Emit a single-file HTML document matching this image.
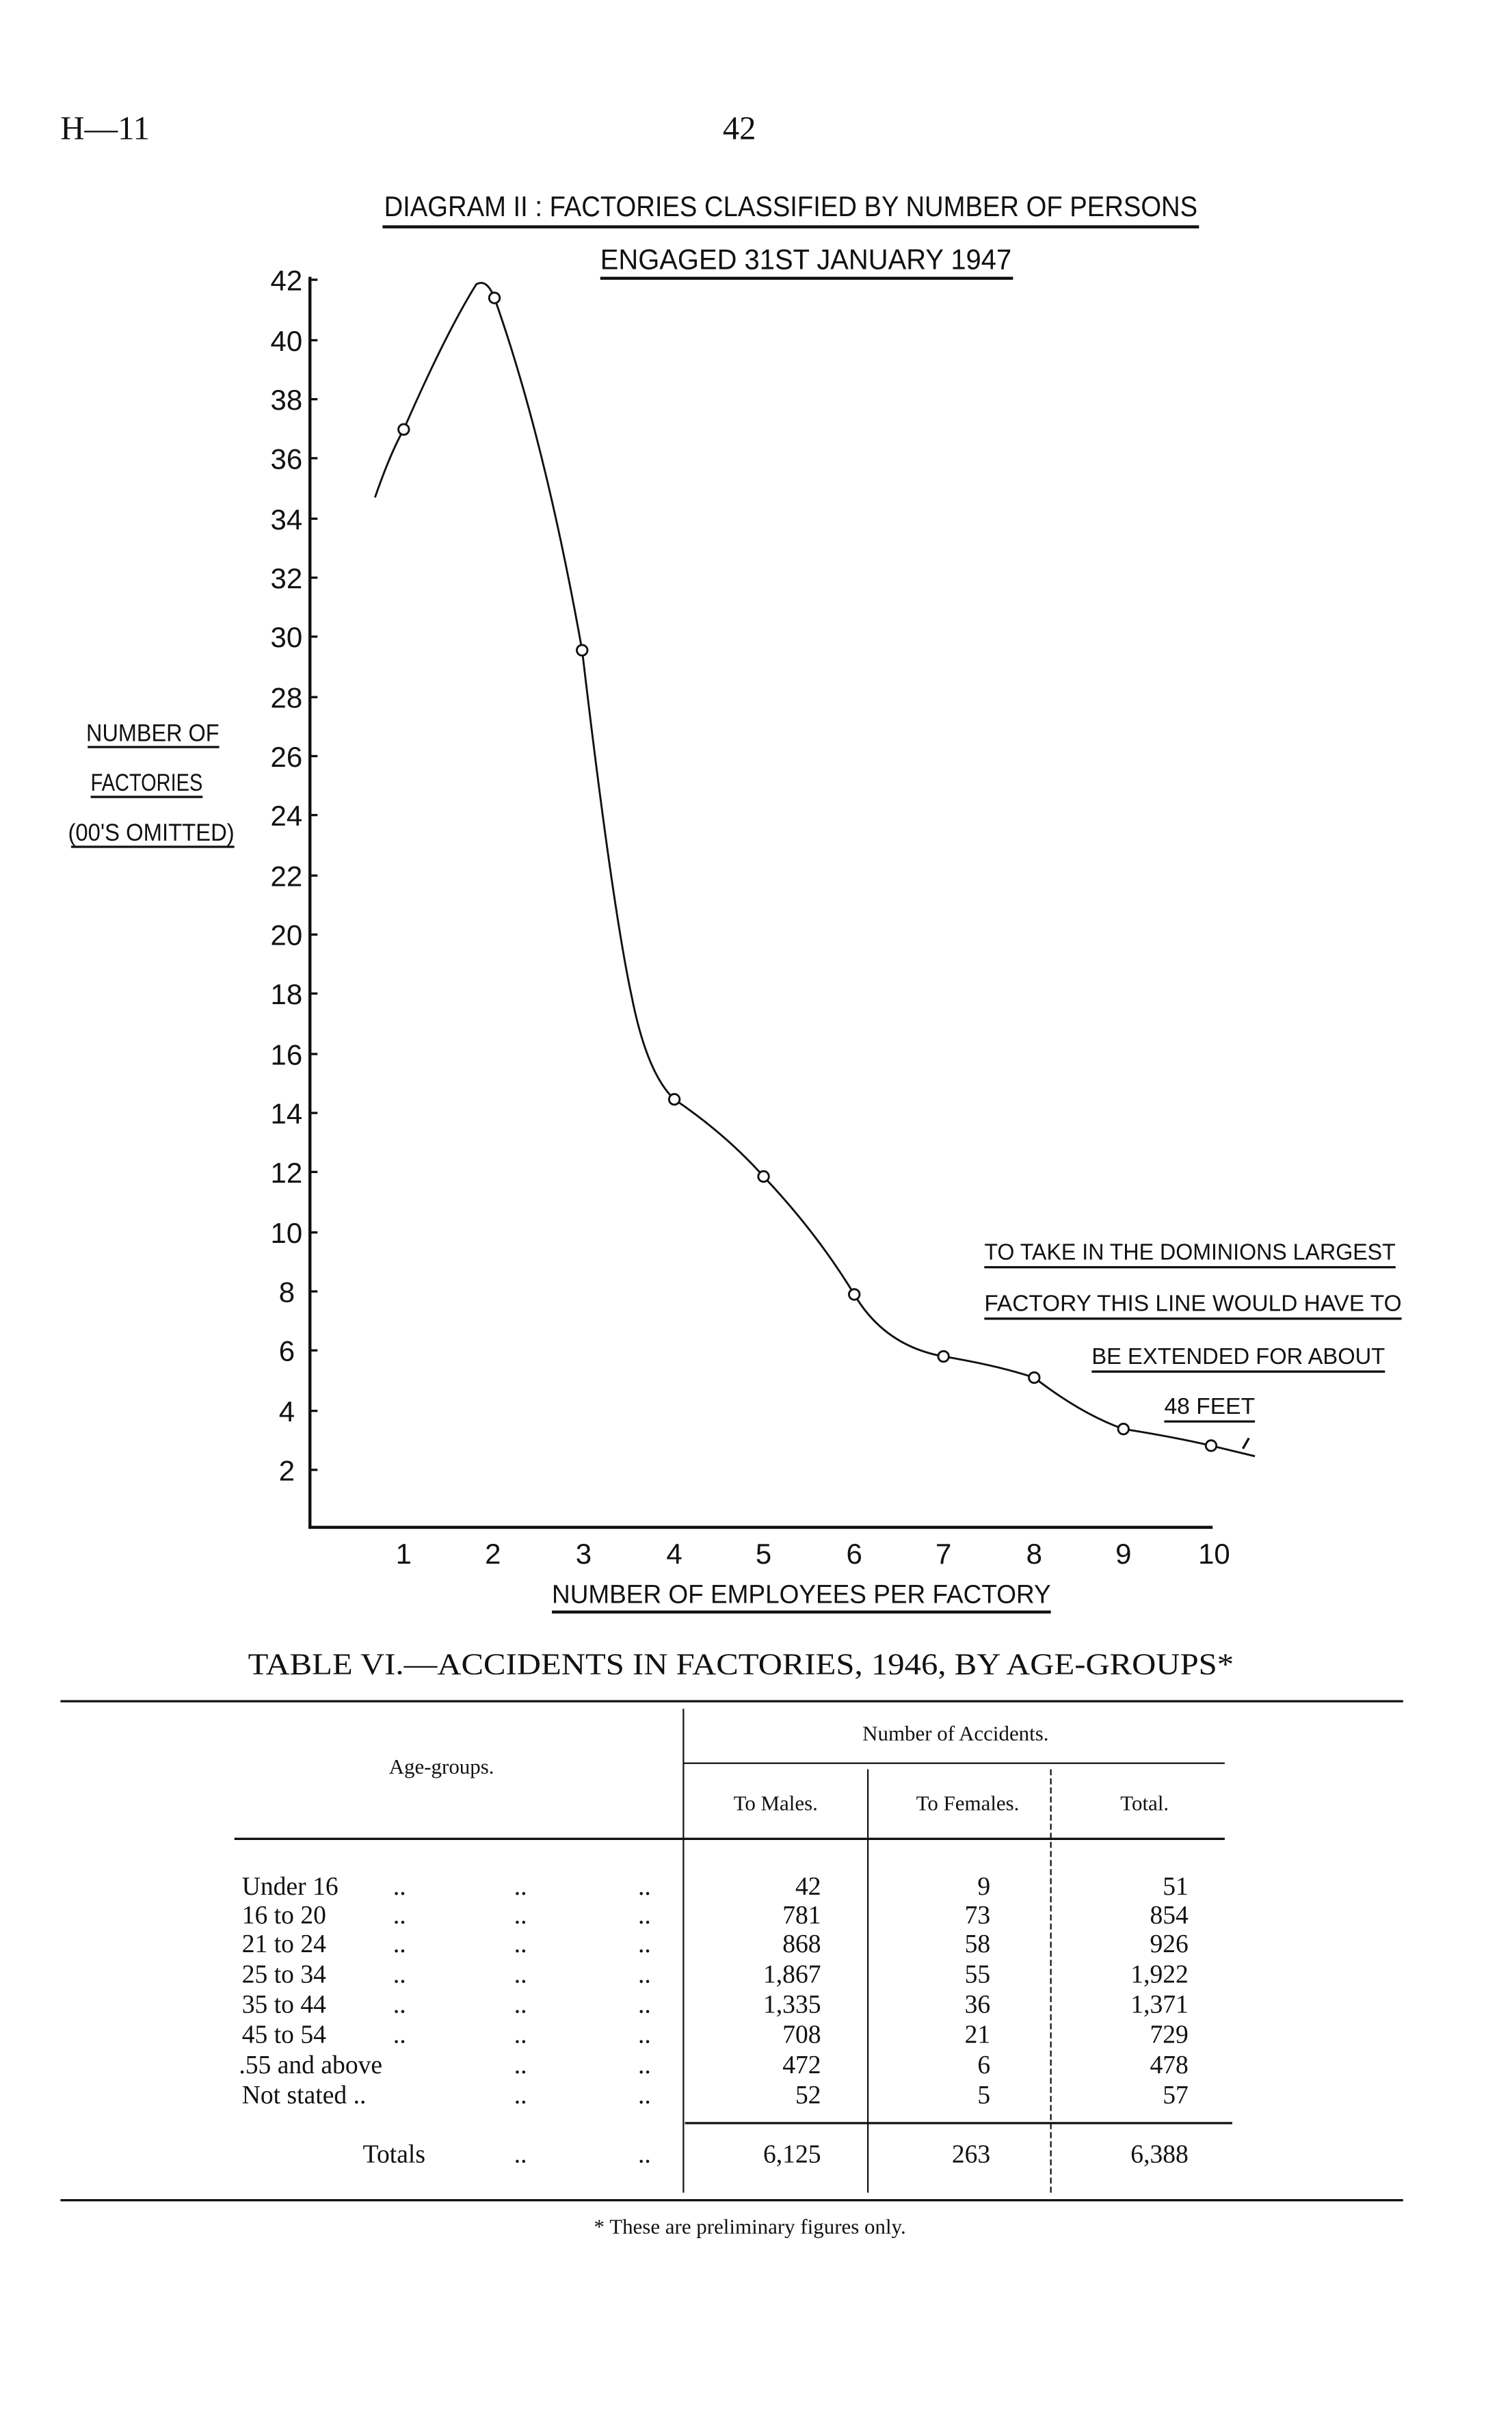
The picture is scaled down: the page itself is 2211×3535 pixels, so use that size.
<!DOCTYPE html>
<html><head><meta charset="utf-8"><style>
html,body{margin:0;padding:0;background:#fff;}
svg{display:block;}
.h{font-family:"Liberation Sans",sans-serif;fill:#111;}
.s{font-family:"Liberation Serif",serif;fill:#111;}
</style></head><body>
<svg width="2211" height="3535" viewBox="0 0 1000 1599" preserveAspectRatio="none" xmlns="http://www.w3.org/2000/svg">
<rect width="1000" height="1599" fill="#fff"/>
<text x="40" y="92" class="s" font-size="22">H—11</text>
<text x="478" y="92" class="s" font-size="22">42</text>
<!-- title -->
<text x="523" y="143" class="h" font-size="19" text-anchor="middle" textLength="538" lengthAdjust="spacingAndGlyphs">DIAGRAM II : FACTORIES CLASSIFIED BY NUMBER OF PERSONS</text>
<line x1="253" y1="150" x2="793" y2="150" stroke="#111" stroke-width="2"/>
<text x="533" y="178" class="h" font-size="19" text-anchor="middle" textLength="272" lengthAdjust="spacingAndGlyphs">ENGAGED 31ST JANUARY 1947</text>
<line x1="397" y1="184" x2="670" y2="184" stroke="#111" stroke-width="2"/>
<!-- axes -->
<line x1="205" y1="183" x2="205" y2="1010" stroke="#111" stroke-width="2"/>
<line x1="204" y1="1010" x2="802" y2="1010" stroke="#111" stroke-width="2"/>
<g class="h" font-size="19" text-anchor="end">
<text x="200" y="192">42</text><text x="200" y="232">40</text><text x="200" y="271">38</text><text x="200" y="310">36</text><text x="200" y="350">34</text><text x="200" y="389">32</text><text x="200" y="428">30</text><text x="200" y="468">28</text><text x="200" y="507">26</text><text x="200" y="546">24</text><text x="200" y="586">22</text><text x="200" y="625">20</text><text x="200" y="664">18</text><text x="200" y="704">16</text><text x="200" y="743">14</text><text x="200" y="782">12</text><text x="200" y="822">10</text><text x="195" y="861">8</text><text x="195" y="900">6</text><text x="195" y="940">4</text><text x="195" y="979">2</text>
</g>
<g stroke="#111" stroke-width="1.5">
<line x1="205" y1="185" x2="210" y2="185"/><line x1="205" y1="225" x2="210" y2="225"/><line x1="205" y1="264" x2="210" y2="264"/><line x1="205" y1="303" x2="210" y2="303"/><line x1="205" y1="343" x2="210" y2="343"/><line x1="205" y1="382" x2="210" y2="382"/><line x1="205" y1="421" x2="210" y2="421"/><line x1="205" y1="461" x2="210" y2="461"/><line x1="205" y1="500" x2="210" y2="500"/><line x1="205" y1="539" x2="210" y2="539"/><line x1="205" y1="579" x2="210" y2="579"/><line x1="205" y1="618" x2="210" y2="618"/><line x1="205" y1="657" x2="210" y2="657"/><line x1="205" y1="697" x2="210" y2="697"/><line x1="205" y1="736" x2="210" y2="736"/><line x1="205" y1="775" x2="210" y2="775"/><line x1="205" y1="815" x2="210" y2="815"/><line x1="205" y1="854" x2="210" y2="854"/><line x1="205" y1="893" x2="210" y2="893"/><line x1="205" y1="933" x2="210" y2="933"/><line x1="205" y1="972" x2="210" y2="972"/>
</g>
<g class="h" font-size="19" text-anchor="middle">
<text x="267" y="1034">1</text><text x="326" y="1034">2</text><text x="386" y="1034">3</text><text x="446" y="1034">4</text><text x="505" y="1034">5</text><text x="565" y="1034">6</text><text x="624" y="1034">7</text><text x="684" y="1034">8</text><text x="743" y="1034">9</text><text x="803" y="1034">10</text>
</g>
<text x="530" y="1060" class="h" font-size="17" text-anchor="middle" textLength="330" lengthAdjust="spacingAndGlyphs">NUMBER OF EMPLOYEES PER FACTORY</text>
<line x1="365" y1="1066" x2="695" y2="1066" stroke="#111" stroke-width="2"/>
<!-- y title -->
<g class="h" font-size="16" text-anchor="middle">
<text x="101" y="490" textLength="88" lengthAdjust="spacingAndGlyphs">NUMBER OF</text>
<text x="97" y="523" textLength="74" lengthAdjust="spacingAndGlyphs">FACTORIES</text>
<text x="100" y="556" textLength="110" lengthAdjust="spacingAndGlyphs">(00'S OMITTED)</text>
</g>
<g stroke="#111" stroke-width="1.5"><line x1="58" y1="494" x2="145" y2="494"/><line x1="60" y1="527" x2="134" y2="527"/><line x1="47" y1="560" x2="155" y2="560"/></g>
<!-- curve -->
<path d="M248,329 Q258,300 267,284 Q295,220 315,188 Q322,184 327,197 Q360,290 385,430 Q405,600 418,660 Q428,710 446,727 Q480,750 505,778 Q540,815 565,856 Q585,890 624,897 Q660,903 684,911 Q715,935 743,945 Q775,950 801,956 L830,963" fill="none" stroke="#111" stroke-width="1.3"/>
<g fill="#fff" stroke="#111" stroke-width="1.3">
<circle cx="267" cy="284" r="3.5"/><circle cx="327" cy="197" r="3.5"/><circle cx="385" cy="430" r="3.5"/><circle cx="446" cy="727" r="3.5"/><circle cx="505" cy="778" r="3.5"/><circle cx="565" cy="856" r="3.5"/><circle cx="624" cy="897" r="3.5"/><circle cx="684" cy="911" r="3.5"/><circle cx="743" cy="945" r="3.5"/><circle cx="801" cy="956" r="3.5"/>
</g>
<!-- annotation -->
<g class="h" font-size="15" text-anchor="end">
<text x="923" y="833" textLength="272" lengthAdjust="spacingAndGlyphs">TO TAKE IN THE DOMINIONS LARGEST</text>
<text x="927" y="867" textLength="276" lengthAdjust="spacingAndGlyphs">FACTORY THIS LINE WOULD HAVE TO</text>
<text x="916" y="902" textLength="194" lengthAdjust="spacingAndGlyphs">BE EXTENDED FOR ABOUT</text>
<text x="830" y="935" textLength="60" lengthAdjust="spacingAndGlyphs">48 FEET</text>
</g>
<g stroke="#111" stroke-width="1.5"><line x1="651" y1="838" x2="923" y2="838"/><line x1="651" y1="872" x2="927" y2="872"/><line x1="722" y1="907" x2="916" y2="907"/><line x1="770" y1="940" x2="830" y2="940"/></g>
<line x1="822" y1="958" x2="826" y2="951" stroke="#111" stroke-width="1.5"/>
<!-- table -->
<text x="490" y="1107" class="s" font-size="20" text-anchor="middle" textLength="652" lengthAdjust="spacingAndGlyphs">TABLE VI.—ACCIDENTS IN FACTORIES, 1946, BY AGE-GROUPS*</text>
<line x1="40" y1="1125" x2="928" y2="1125" stroke="#111" stroke-width="1.5"/>
<line x1="452" y1="1130" x2="452" y2="1450" stroke="#111" stroke-width="1"/>
<line x1="574" y1="1170" x2="574" y2="1450" stroke="#111" stroke-width="1"/>
<line x1="695" y1="1170" x2="695" y2="1450" stroke="#111" stroke-width="1" stroke-dasharray="4,2"/>
<text x="632" y="1151" class="s" font-size="14" text-anchor="middle">Number of Accidents.</text>
<line x1="452" y1="1166" x2="810" y2="1166" stroke="#111" stroke-width="1"/>
<text x="292" y="1173" class="s" font-size="14" text-anchor="middle">Age-groups.</text>
<g class="s" font-size="14" text-anchor="middle"><text x="513" y="1197">To Males.</text><text x="640" y="1197">To Females.</text><text x="757" y="1197">Total.</text></g>
<line x1="155" y1="1216" x2="810" y2="1216" stroke="#111" stroke-width="1.5"/>
<g class="s" font-size="17">
<text x="160" y="1253">Under 16</text><text x="160" y="1272">16 to 20</text><text x="160" y="1291">21 to 24</text><text x="160" y="1311">25 to 34</text><text x="160" y="1331">35 to 44</text><text x="160" y="1351">45 to 54</text><text x="158" y="1371">.55 and above</text><text x="160" y="1391">Not stated ..</text>
<text x="240" y="1430">Totals</text>
</g>
<g class="s" font-size="17">
<text x="260" y="1253">..</text><text x="340" y="1253">..</text><text x="422" y="1253">..</text>
<text x="260" y="1272">..</text><text x="340" y="1272">..</text><text x="422" y="1272">..</text>
<text x="260" y="1291">..</text><text x="340" y="1291">..</text><text x="422" y="1291">..</text>
<text x="260" y="1311">..</text><text x="340" y="1311">..</text><text x="422" y="1311">..</text>
<text x="260" y="1331">..</text><text x="340" y="1331">..</text><text x="422" y="1331">..</text>
<text x="260" y="1351">..</text><text x="340" y="1351">..</text><text x="422" y="1351">..</text>
<text x="340" y="1371">..</text><text x="422" y="1371">..</text>
<text x="340" y="1391">..</text><text x="422" y="1391">..</text>
<text x="340" y="1430">..</text><text x="422" y="1430">..</text>
</g>
<g class="s" font-size="17" text-anchor="end">
<text x="543" y="1253">42</text><text x="655" y="1253">9</text><text x="786" y="1253">51</text>
<text x="543" y="1272">781</text><text x="655" y="1272">73</text><text x="786" y="1272">854</text>
<text x="543" y="1291">868</text><text x="655" y="1291">58</text><text x="786" y="1291">926</text>
<text x="543" y="1311">1,867</text><text x="655" y="1311">55</text><text x="786" y="1311">1,922</text>
<text x="543" y="1331">1,335</text><text x="655" y="1331">36</text><text x="786" y="1331">1,371</text>
<text x="543" y="1351">708</text><text x="655" y="1351">21</text><text x="786" y="1351">729</text>
<text x="543" y="1371">472</text><text x="655" y="1371">6</text><text x="786" y="1371">478</text>
<text x="543" y="1391">52</text><text x="655" y="1391">5</text><text x="786" y="1391">57</text>
<text x="543" y="1430">6,125</text><text x="655" y="1430">263</text><text x="786" y="1430">6,388</text>
</g>
<line x1="453" y1="1404" x2="815" y2="1404" stroke="#111" stroke-width="1.5"/>
<line x1="40" y1="1455" x2="928" y2="1455" stroke="#111" stroke-width="1.5"/>
<text x="496" y="1477" class="s" font-size="14" text-anchor="middle">* These are preliminary figures only.</text>
</svg>
</body></html>
